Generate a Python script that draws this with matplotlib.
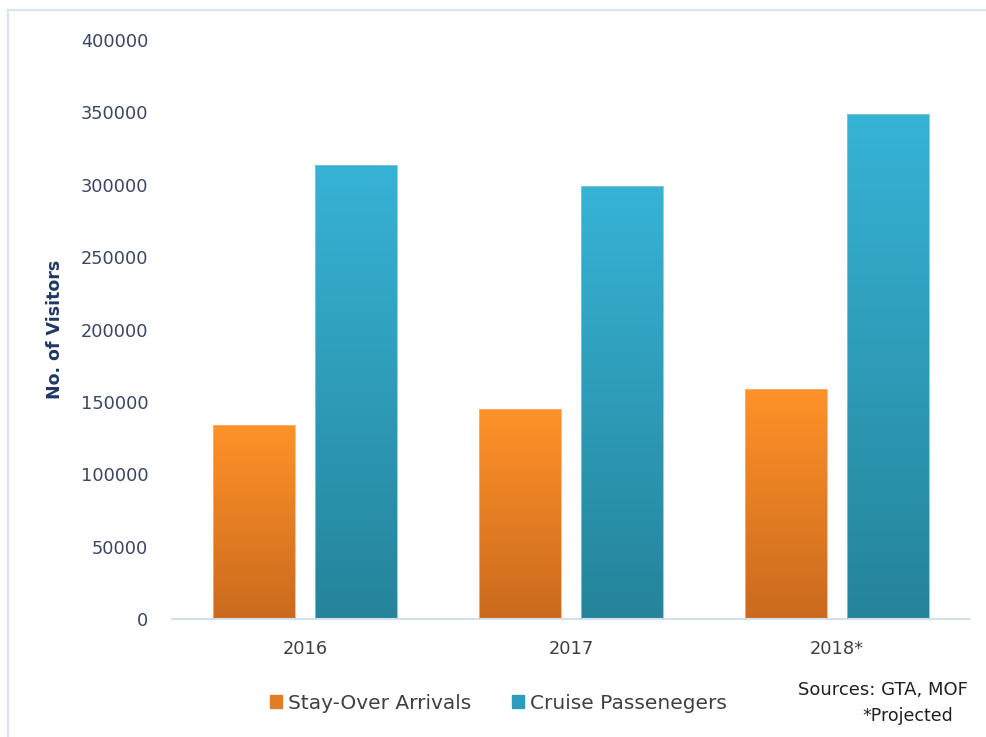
import matplotlib.pyplot as plt
import matplotlib.patches as mpatches
import numpy as np
from matplotlib.colors import LinearSegmentedColormap

years = ["2016", "2017", "2018*"]
stay_over = [134000, 145000, 159000]
cruise = [314000, 299000, 349000]
series_names = ["Stay-Over Arrivals", "Cruise Passenegers"]

orange_top, orange_bot = "#FF9229", "#CB6A1E"
blue_top, blue_bot = "#37B3D6", "#25849A"

fig = plt.figure(figsize=(9.87, 7.37), dpi=100)
ax = fig.add_axes([0.1743, 0.1601, 0.8085, 0.7856])

# light frame around the chart area
fig.patches.append(mpatches.Rectangle((8 / 987, -0.01), 1.0, 1 - 10 / 737 + 0.01,
                                      transform=fig.transFigure, fill=False,
                                      edgecolor="#D5E3F4", linewidth=1.5))

x = np.arange(len(years))
w = 0.308
off = 0.1915


def gradient_bars(bars, top, bot):
    cmap = LinearSegmentedColormap.from_list("g", [bot, top])
    grad = np.linspace(0, 1, 256).reshape(-1, 1)
    for b in bars:
        x0, y0 = b.get_x(), b.get_y()
        im = ax.imshow(grad, cmap=cmap, origin="lower", aspect="auto",
                       extent=[x0, x0 + b.get_width(), y0, y0 + b.get_height()],
                       zorder=2)
        im.set_clip_path(b)


b1 = ax.bar(x - off, stay_over, w, color="none", edgecolor="#F6B27A", linewidth=0.6, zorder=3)
b2 = ax.bar(x + off, cruise, w, color="none", edgecolor="#7FC8DD", linewidth=0.6, zorder=3)
gradient_bars(b1, orange_top, orange_bot)
gradient_bars(b2, blue_top, blue_bot)

ax.set_xlim(-0.5, 2.5)
ax.set_ylim(0, 400000)
ax.set_yticks(np.arange(0, 400001, 50000))
ax.set_xticks(x)
ax.set_xticklabels(years)
ax.tick_params(axis="y", length=0, pad=17, labelsize=12.8, labelcolor="#3B4663")
ax.tick_params(axis="x", length=0, pad=15, labelsize=12.8, labelcolor="#404040")
for s in ["top", "right", "left"]:
    ax.spines[s].set_visible(False)
ax.spines["bottom"].set_color("#D6E0EC")
ax.spines["bottom"].set_linewidth(1.5)

ax.set_ylabel("No. of Visitors", fontsize=12.5, fontweight="bold", color="#1F3763", labelpad=12)

handles = [mpatches.Patch(color="#E47C25"), mpatches.Patch(color="#2D9CBA")]
fig.legend(handles, series_names, loc="center", bbox_to_anchor=(0.505, 0.046),
           ncol=2, frameon=False, fontsize=14.5, handlelength=0.6, handleheight=0.6,
           handletextpad=0.3, columnspacing=2.0, labelcolor="#404040")

fig.text(0.981, 0.064, "Sources: GTA, MOF", ha="right", va="center", fontsize=13, color="#202020")
fig.text(0.966, 0.028, "*Projected", ha="right", va="center", fontsize=12.5, color="#202020")

fig.savefig("out.png", dpi=100)
